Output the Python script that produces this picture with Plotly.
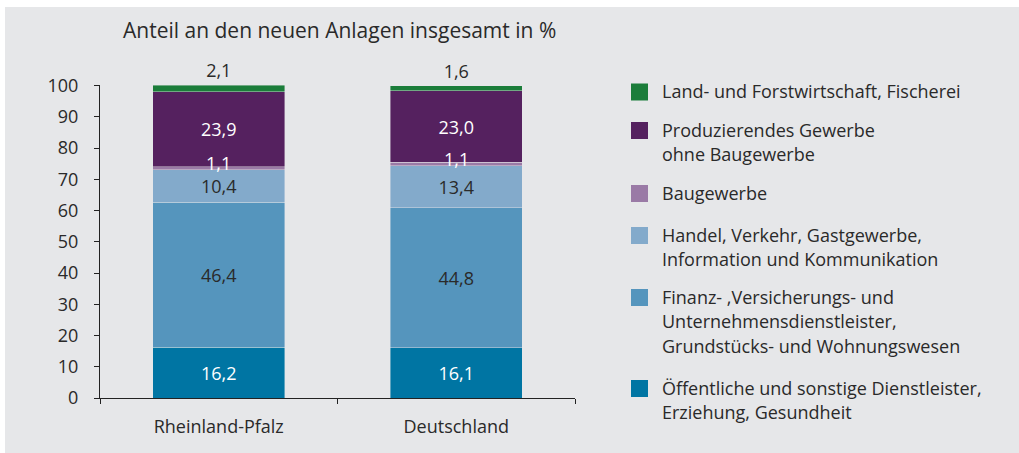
import plotly.graph_objects as go

categories = ["Rheinland-Pfalz", "Deutschland"]

# Stack order bottom -> top
series_names = [
    "Öffentliche und sonstige Dienstleister,<br>Erziehung, Gesundheit",
    "Finanz- ,Versicherungs- und<br>Unternehmensdienstleister,<br>Grundstücks- und Wohnungswesen",
    "Handel, Verkehr, Gastgewerbe,<br>Information und Kommunikation",
    "Baugewerbe",
    "Produzierendes Gewerbe<br>ohne Baugewerbe",
    "Land- und Forstwirtschaft, Fischerei",
]
oeffentliche = [16.2, 16.1]
finanz = [46.4, 44.8]
handel = [10.4, 13.4]
bau = [1.1, 1.1]
produzierend = [23.9, 23.0]
land = [2.1, 1.6]
series_values = [oeffentliche, finanz, handel, bau, produzierend, land]

colors = ["#0075a3", "#5595bd", "#83aacb", "#9a7aa6", "#55215f", "#1b7d3a"]
text_colors = ["#ffffff", "#2a2a2a", "#2a2a2a", "#ffffff", "#ffffff", "#2a2a2a"]

FONT = "Open Sans"
TXT = "#2a2a2a"
BG = "#e6e7e9"
FS = 18

W, H = 1019, 453
ML, MR, MT, MB = 100, 444, 85, 55
PW, PH = W - ML - MR, H - MT - MB
BAU_IDX = 3

def fmt(v):
    return f"{v:.1f}".replace(".", ",")

fig = go.Figure()
for i, (name, vals) in enumerate(zip(series_names, series_values)):
    last = i == len(series_values) - 1
    show_text = i != BAU_IDX
    fig.add_trace(go.Bar(
        x=categories, y=vals, name=name,
        marker=dict(color=colors[i], line=dict(width=0.6, color="rgba(230,231,233,0.7)")),
        text=[fmt(v) for v in vals] if show_text else None,
        textposition="outside" if last else "inside",
        insidetextanchor="middle",
        textfont=dict(family=FONT, size=FS, color=text_colors[i]),
        outsidetextfont=dict(family=FONT, size=FS, color=text_colors[i]),
        cliponaxis=False,
        showlegend=False,
        hoverinfo="skip",
    ))

def px_to_paper_x(px):
    return (px - ML) / PW

def px_to_paper_y(py):
    return 1 - (py - MT) / PH

shapes = [dict(type="rect", xref="paper", yref="paper",
               x0=px_to_paper_x(5), x1=px_to_paper_x(1030),
               y0=px_to_paper_y(470), y1=px_to_paper_y(7),
               fillcolor=BG, line=dict(width=0), layer="below")]
annotations = [dict(text="Anteil an den neuen Anlagen insgesamt in %", xref="paper", yref="paper",
                    x=px_to_paper_x(121), y=px_to_paper_y(30), xanchor="left", yanchor="middle",
                    showarrow=False, font=dict(family=FONT, size=21, color=TXT))]

# Labels for the thin Baugewerbe segment, drawn on top of the stack
for c, cat in enumerate(categories):
    base = sum(series_values[k][c] for k in range(BAU_IDX))
    annotations.append(dict(text=fmt(bau[c]), x=cat, y=base + bau[c] / 2, xref="x", yref="y",
                            showarrow=False, yanchor="middle", yshift=5,
                            font=dict(family=FONT, size=FS, color="#ffffff")))

# Manual legend, top entry first
legend_centers = [92, 130.5, 193.5, 235.5, 297.5, 388.5]
line_h = 24.8
for k, idx in enumerate(reversed(range(len(series_names)))):
    yc = legend_centers[k]
    shapes.append(dict(type="rect", xref="paper", yref="paper",
                       x0=px_to_paper_x(631), x1=px_to_paper_x(648),
                       y0=px_to_paper_y(yc + 8.5), y1=px_to_paper_y(yc - 8.5),
                       fillcolor=colors[idx], line=dict(width=0)))
    for j, line in enumerate(series_names[idx].split("<br>")):
        annotations.append(dict(text=line, xref="paper", yref="paper",
                                x=px_to_paper_x(660), y=px_to_paper_y(yc - 1 + j * line_h),
                                xanchor="left", yanchor="middle", showarrow=False,
                                font=dict(family=FONT, size=FS, color=TXT)))

fig.update_layout(
    width=W, height=H,
    margin=dict(l=ML, r=MR, t=MT, b=MB, pad=0),
    paper_bgcolor="white", plot_bgcolor=BG,
    barmode="stack", bargap=0.444,
    uniformtext=dict(minsize=FS, mode="show"),
    shapes=shapes, annotations=annotations,
    font=dict(family=FONT, size=FS, color=TXT),
    xaxis=dict(showline=True, linecolor="#222222", linewidth=1.2, ticks="outside",
               tickson="boundaries", ticklen=5, tickcolor="#222222", tickwidth=1.2,
               showgrid=False, ticklabelstandoff=12,
               tickfont=dict(family=FONT, size=FS, color=TXT)),
    yaxis=dict(range=[0, 100.2], showline=True, linecolor="#222222", linewidth=1.2,
               ticks="outside", ticklen=5, tickcolor="#222222", tickwidth=1.2,
               tickvals=list(range(0, 101, 10)), showgrid=False, zeroline=False,
               ticklabelstandoff=12,
               tickfont=dict(family=FONT, size=FS, color=TXT)),
)

fig.write_html("out.html", config={"displayModeBar": False},
               post_script="document.body.style.margin='0';document.body.style.overflow='hidden';")
